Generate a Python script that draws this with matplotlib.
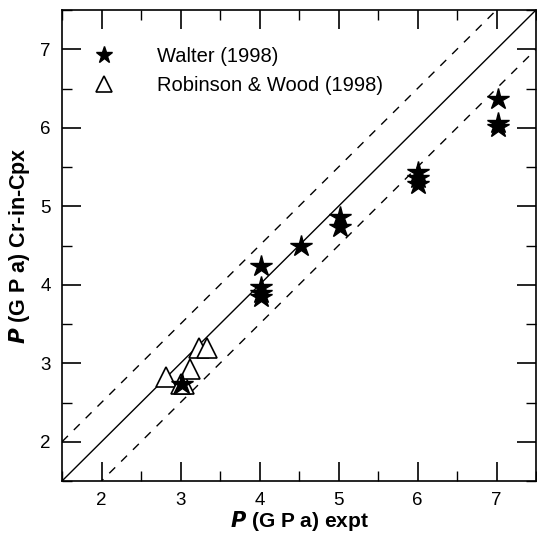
import matplotlib
matplotlib.use("Agg")
import matplotlib.pyplot as plt
import numpy as np

plt.rcParams['font.family'] = ['Liberation Sans', 'DejaVu Sans']

# Walter (1998)
walter_x = [3.02, 4.02, 4.02, 4.02, 4.02, 4.53, 5.02, 5.02, 6.01, 6.01, 6.01, 7.02, 7.02, 7.02]
walter_y = [2.74, 4.24, 3.97, 3.90, 3.84, 4.49, 4.86, 4.73, 5.43, 5.36, 5.28, 6.37, 6.06, 6.01]
# Robinson & Wood (1998)
rw_x = [2.82, 3.00, 3.04, 3.12, 3.23, 3.33]
rw_y = [2.83, 2.74, 2.73, 2.93, 3.20, 3.19]

line_x = [1.5, 7.5]
offset = 0.5

xticks = [2, 3, 4, 5, 6, 7]
yticks = [2, 3, 4, 5, 6, 7]

fig = plt.figure(figsize=(5.37, 5.33), dpi=100)
ax = fig.add_axes([62/537, 1-481/533, 474/537, 471/533])

lx = np.array(line_x)
ax.plot(lx, lx, color='black', lw=1.0)
ax.plot(lx, lx + offset, color='black', lw=1.0, ls=(0, (6, 6)))
ax.plot(lx, lx - offset, color='black', lw=1.0, ls=(0, (6, 6)))

ax.plot(rw_x, rw_y, ls='none', marker='^', ms=14, mfc='white', mec='black', mew=1.2,
        label='Robinson & Wood (1998)', zorder=3)
ax.plot(walter_x, walter_y, ls='none', marker='*', ms=16, mfc='black', mec='black',
        label='Walter (1998)', zorder=4)

ax.set_xlim(1.5, 7.5)
ax.set_ylim(1.5, 7.5)
ax.set_xticks(xticks)
ax.set_yticks(yticks)
ax.set_xticks(np.arange(1.5, 7.6, 0.5), minor=True)
ax.set_yticks(np.arange(1.5, 7.6, 0.5), minor=True)
ax.tick_params(which='major', direction='in', length=14, width=1.2, top=True, right=True,
               labelsize=13.5, pad=8)
ax.tick_params(which='minor', direction='in', length=7, width=1.0, top=True, right=True)
for s in ax.spines.values():
    s.set_linewidth(1.2)

ax.set_xlabel(r'$\boldsymbol{P}$ (G P a) expt', fontsize=15, fontweight='bold', labelpad=0)
ax.set_ylabel(r'$\boldsymbol{P}$ (G P a) Cr-in-Cpx', fontsize=15.5, fontweight='bold', labelpad=6)

h, l = ax.get_legend_handles_labels()
leg = ax.legend(h[::-1], l[::-1], loc='upper left', frameon=False, fontsize=14.5,
                handletextpad=2.1, labelspacing=0.5, bbox_to_anchor=(0.03, 0.96),
                markerscale=0.8, handlelength=1.0)

fig.savefig('out.png', dpi=100)
